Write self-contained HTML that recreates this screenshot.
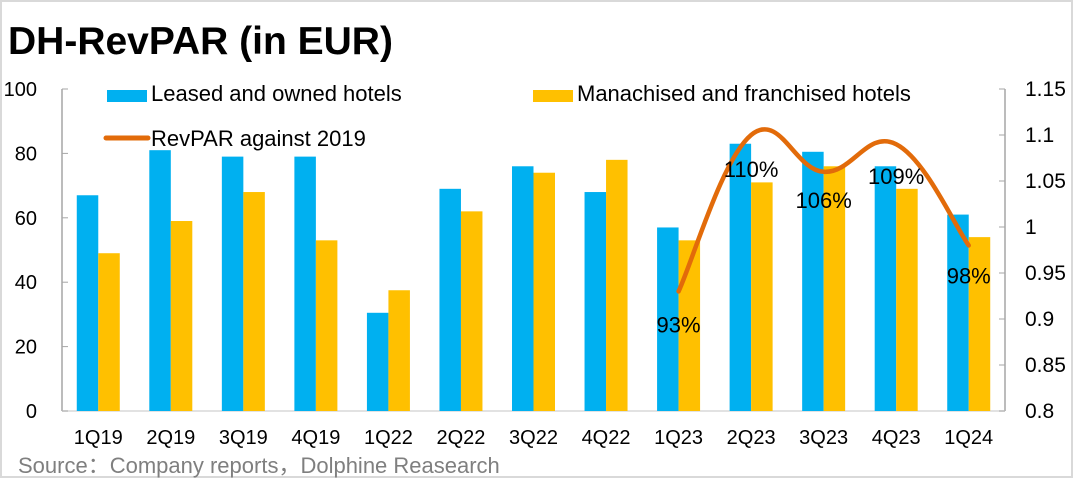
<!DOCTYPE html>
<html><head><meta charset="utf-8"><style>
body{margin:0;background:#fff}
svg{display:block;font-family:"Liberation Sans","Noto Sans CJK SC",sans-serif}
</style></head><body>
<svg id="chart" width="1073" height="478" viewBox="0 0 1073 478">
<rect x="1" y="1" width="1071" height="476" fill="#fff" stroke="#d9d9d9" stroke-width="2"/>
<text x="8" y="54" font-size="39" font-weight="bold">DH-RevPAR (in EUR)</text>
<g>
<rect x="107" y="90" width="40" height="12" fill="#00b0f0"/>
<text x="151" y="101" font-size="22">Leased and owned hotels</text>
<rect x="533" y="90" width="40" height="12" fill="#ffc000"/>
<text x="577" y="101" font-size="22">Manachised and franchised hotels</text>
<line x1="106" y1="138" x2="148" y2="138" stroke="#e26b0a" stroke-width="5" stroke-linecap="round"/>
<text x="151" y="146" font-size="22">RevPAR against 2019</text>
</g>
<g id="axes"></g><g id="bars"></g><g id="line"></g><g id="labels"></g>
<text x="18" y="473" font-size="22" fill="#7f7f7f">Source：Company reports，Dolphine Reasearch</text>
</svg>
<script>
const categories=["1Q19","2Q19","3Q19","4Q19","1Q22","2Q22","3Q22","4Q22","1Q23","2Q23","3Q23","4Q23","1Q24"];
const leased=[67,81,79,79,30.5,69,76,68,57,83,80.5,76,61];
const managed=[49,59,68,53,37.5,62,74,78,53,71,76,69,54];
const revpar=[null,null,null,null,null,null,null,null,0.93,1.10,1.06,1.09,0.98];
const revparLabels=["","","","","","","","","93%","110%","106%","109%","98%"];
const leftTicks=["0","20","40","60","80","100"];
const rightTicks=["0.8","0.85","0.9","0.95","1","1.05","1.1","1.15"];
const NS="http://www.w3.org/2000/svg";
const X0=62,X1=1005,Y0=411,Y1=89;
const step=(X1-X0)/categories.length;
const xc=i=>X0+step*(i+0.5);
const yL=v=>Y0-(v/100)*(Y0-Y1);
const yR=v=>Y0-((v-0.8)/0.35)*(Y0-Y1);
function mk(tag,attrs,parent,text){const e=document.createElementNS(NS,tag);for(const k in attrs)e.setAttribute(k,attrs[k]);if(text!==undefined)e.textContent=text;document.getElementById(parent).appendChild(e);return e;}
let e=mk("line",{x1:X0,y1:Y1,x2:X0,y2:Y0,stroke:"#a6a6a6","stroke-width":1.5},"axes");


e=mk("line",{x1:X1,y1:Y1,x2:X1,y2:Y0,stroke:"#a6a6a6","stroke-width":1.5},"axes");


e=mk("line",{x1:X0,y1:Y0,x2:X1,y2:Y0,stroke:"#d9d9d9","stroke-width":1.5},"axes");


leftTicks.forEach(t=>{const y=yL(+t);
 const l=mk("line",{x1:X0,y1:y,x2:X0+6,y2:y,stroke:"#a6a6a6"},"axes");
 
 
 const tx=mk("text",{x:37,y:y+7,"font-size":20,"text-anchor":"end"},"axes",t);
 
 });
rightTicks.forEach(t=>{const y=yR(+t);
 const l=mk("line",{x1:X1-6,y1:y,x2:X1,y2:y,stroke:"#a6a6a6"},"axes");
 
 
 const tx=mk("text",{x:1025,y:y+7,"font-size":21},"axes",t);
 
 });
const bw=21.5;
categories.forEach((c,i)=>{
 const x=xc(i);
 const b1=mk("rect",{x:x-bw,y:yL(leased[i]),width:bw,height:Y0-yL(leased[i]),fill:"#00b0f0"},"bars");
 
 
 const b2=mk("rect",{x:x,y:yL(managed[i]),width:bw,height:Y0-yL(managed[i]),fill:"#ffc000"},"bars");
 
 
 const t=mk("text",{x:x,y:444,"font-size":20,"text-anchor":"middle"},"axes",c);
 
 
});
const pts=[];revpar.forEach((v,i)=>{if(v!==null)pts.push([xc(i),yR(v),i]);});
let d="M"+pts[0][0]+","+pts[0][1];
for(let k=0;k<pts.length-1;k++){
 const p0=pts[Math.max(0,k-1)],p1=pts[k],p2=pts[k+1],p3=pts[Math.min(pts.length-1,k+2)];
 const t=1/5;
 d+=` C${p1[0]+(p2[0]-p0[0])*t},${p1[1]+(p2[1]-p0[1])*t} ${p2[0]-(p3[0]-p1[0])*t},${p2[1]-(p3[1]-p1[1])*t} ${p2[0]},${p2[1]}`;
}
const ln=mk("path",{d:d,fill:"none",stroke:"#e26b0a","stroke-width":4.5,"stroke-linecap":"round"},"line");


const dys=[0,0,0,0,0,0,0,0,33,34,28,32,30];
pts.forEach(p=>{
 const i=p[2];
 const t=mk("text",{x:p[0],y:p[1]+dys[i]+8,"font-size":22,"text-anchor":"middle"},"labels",revparLabels[i]);
 
 
});
</script>
</body></html>
